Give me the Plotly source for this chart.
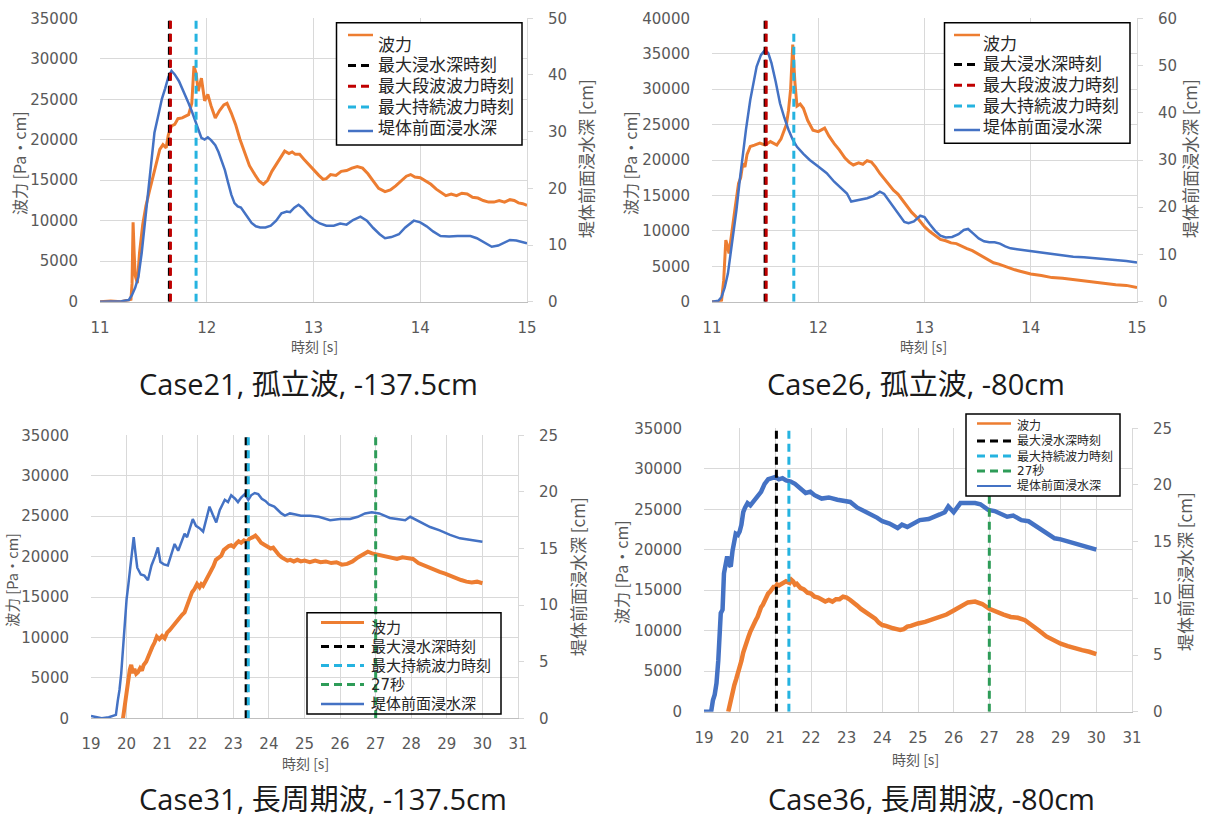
import plotly.graph_objects as go

W, H = 1209, 821

# ---------------- Case21, 孤立波, -137.5cm ----------------
c21_force = [
    (11.00, 0), (11.10, 100), (11.20, 0), (11.29, 300), (11.30, 2200), (11.31, 9800), (11.32, 6000), (11.33, 3200),
    (11.35, 2300), (11.37, 6000), (11.40, 9500), (11.43, 11800), (11.46, 13500), (11.50, 15500), (11.53, 17200),
    (11.56, 18800), (11.59, 19400), (11.62, 19000), (11.64, 20600), (11.67, 21700), (11.70, 21900), (11.73, 22600),
    (11.77, 22700), (11.80, 22900), (11.83, 23100), (11.86, 24500), (11.88, 29100), (11.90, 28200), (11.92, 26000),
    (11.95, 27600), (11.98, 24800), (12.01, 25600), (12.04, 24200), (12.08, 22700), (12.12, 23600), (12.16, 24300),
    (12.19, 24500), (12.23, 23300), (12.27, 21900), (12.31, 20100), (12.36, 18200), (12.40, 16800), (12.45, 15700),
    (12.49, 14900), (12.53, 14500), (12.57, 15000), (12.61, 16100), (12.65, 16900), (12.69, 17800), (12.73, 18600),
    (12.77, 18300), (12.80, 18500), (12.83, 18200), (12.87, 18200), (12.91, 17600), (12.95, 17000), (13.00, 16300),
    (13.05, 15600), (13.09, 15100), (13.12, 15200), (13.16, 15700), (13.21, 15600), (13.26, 16100), (13.31, 16200),
    (13.36, 16500), (13.41, 16700), (13.46, 16500), (13.51, 15800), (13.56, 14900), (13.61, 14000), (13.67, 13600),
    (13.72, 13800), (13.77, 14300), (13.82, 14900), (13.87, 15500), (13.91, 15700), (13.95, 15400), (14.00, 15300),
    (14.05, 14900), (14.10, 14500), (14.15, 13900), (14.20, 13400), (14.24, 13100), (14.29, 13300), (14.34, 13100),
    (14.39, 13400), (14.44, 13300), (14.49, 12900), (14.54, 12800), (14.59, 12500), (14.64, 12300), (14.69, 12300),
    (14.74, 12500), (14.79, 12300), (14.84, 12600), (14.88, 12500), (14.92, 12200), (14.96, 12100), (15.00, 11900),
]
c21_depth = [
    (11.00, 0), (11.10, 0), (11.20, 0.1), (11.27, 0.3), (11.30, 1.2), (11.33, 2.5), (11.36, 4.4), (11.39, 8.5),
    (11.42, 13.8), (11.45, 20.0), (11.48, 25.6), (11.51, 29.8), (11.55, 33.2), (11.58, 35.8), (11.61, 37.6),
    (11.64, 39.6), (11.67, 40.7), (11.70, 40.1), (11.74, 38.9), (11.77, 37.7), (11.80, 36.3), (11.83, 35.0),
    (11.86, 33.6), (11.89, 32.0), (11.92, 30.2), (11.95, 28.9), (11.98, 28.6), (12.01, 29.0), (12.04, 28.5),
    (12.08, 27.6), (12.11, 26.4), (12.14, 24.8), (12.17, 23.2), (12.20, 21.0), (12.23, 18.9), (12.26, 17.4),
    (12.29, 16.8), (12.32, 16.6), (12.35, 15.9), (12.38, 15.0), (12.42, 13.9), (12.46, 13.3), (12.50, 13.1),
    (12.55, 13.1), (12.60, 13.4), (12.65, 14.3), (12.70, 15.6), (12.75, 15.9), (12.78, 15.8), (12.82, 16.6),
    (12.86, 17.1), (12.90, 16.5), (12.95, 15.4), (13.00, 14.5), (13.06, 13.8), (13.12, 13.4), (13.19, 13.4),
    (13.25, 13.8), (13.31, 13.6), (13.37, 14.4), (13.44, 15.0), (13.50, 14.3), (13.56, 13.0), (13.62, 11.9),
    (13.67, 11.2), (13.73, 11.4), (13.80, 11.9), (13.86, 13.1), (13.94, 14.3), (14.00, 14.0), (14.06, 13.3),
    (14.12, 12.4), (14.19, 11.6), (14.27, 11.5), (14.35, 11.6), (14.47, 11.6), (14.53, 11.2), (14.60, 10.4),
    (14.67, 9.7), (14.73, 9.9), (14.79, 10.5), (14.84, 10.9), (14.90, 10.8), (14.95, 10.6), (15.00, 10.3),
]
c21_t_max_depth = 11.65
c21_t_max_bore = 11.66
c21_t_max_sustained = 11.90

# ---------------- Case26, 孤立波, -80cm ----------------
c26_force = [
    (11.00, 0), (11.05, 0), (11.09, 200), (11.11, 3000), (11.13, 8700), (11.14, 8200), (11.16, 6800), (11.18, 8800),
    (11.20, 11000), (11.22, 13500), (11.25, 16700), (11.27, 17500), (11.29, 19500), (11.31, 19000), (11.33, 20800),
    (11.36, 21900), (11.40, 22100), (11.45, 22400), (11.50, 22100), (11.55, 22600), (11.61, 22100), (11.65, 23000),
    (11.67, 23800), (11.70, 25000), (11.72, 27000), (11.74, 30000), (11.76, 36300), (11.78, 31000), (11.80, 27600),
    (11.83, 27900), (11.86, 27300), (11.90, 25600), (11.95, 24200), (12.00, 24000), (12.06, 24500), (12.10, 23400),
    (12.15, 22300), (12.20, 21400), (12.25, 20300), (12.29, 19700), (12.33, 19300), (12.38, 19600), (12.42, 19400),
    (12.46, 19900), (12.50, 19700), (12.54, 19000), (12.58, 18100), (12.63, 17200), (12.67, 16400), (12.71, 15700),
    (12.75, 15200), (12.79, 14400), (12.83, 13500), (12.88, 12600), (12.94, 11700), (13.00, 10600), (13.05, 9900),
    (13.10, 9300), (13.15, 8800), (13.20, 8600), (13.25, 8300), (13.30, 8200), (13.35, 7800), (13.40, 7500),
    (13.45, 7200), (13.50, 6800), (13.55, 6300), (13.60, 5900), (13.65, 5500), (13.70, 5300), (13.75, 5000),
    (13.80, 4800), (13.85, 4500), (13.90, 4300), (13.95, 4100), (14.00, 3900), (14.10, 3700), (14.20, 3400),
    (14.30, 3300), (14.40, 3100), (14.50, 2900), (14.60, 2700), (14.70, 2600), (14.80, 2400), (14.90, 2300),
    (15.00, 2000),
]
c26_depth = [
    (11.00, 0), (11.06, 0.2), (11.09, 1.0), (11.12, 3.0), (11.15, 6.0), (11.19, 12.5), (11.23, 19.4), (11.26, 25.5),
    (11.29, 31.4), (11.32, 36.5), (11.36, 42.7), (11.39, 46.5), (11.42, 49.8), (11.46, 52.2), (11.50, 53.3),
    (11.53, 52.6), (11.56, 50.5), (11.60, 46.5), (11.64, 42.0), (11.68, 39.0), (11.72, 36.4), (11.76, 34.3),
    (11.80, 32.8), (11.86, 31.3), (11.92, 30.0), (12.00, 28.6), (12.08, 27.2), (12.15, 25.4), (12.22, 24.0),
    (12.27, 22.9), (12.31, 21.2), (12.36, 21.4), (12.41, 21.7), (12.46, 21.9), (12.52, 22.4), (12.58, 23.3),
    (12.62, 22.8), (12.67, 21.2), (12.72, 19.6), (12.77, 18.0), (12.81, 16.9), (12.85, 16.6), (12.90, 17.0),
    (12.96, 18.2), (13.00, 17.9), (13.05, 16.4), (13.10, 15.0), (13.15, 14.0), (13.20, 13.6), (13.26, 13.7),
    (13.32, 14.3), (13.37, 15.2), (13.41, 15.4), (13.46, 14.4), (13.51, 13.4), (13.56, 12.8), (13.61, 12.6),
    (13.66, 12.6), (13.71, 12.3), (13.76, 11.7), (13.81, 11.3), (13.87, 11.1), (13.94, 10.9), (14.00, 10.6),
    (14.10, 10.3), (14.20, 10.0), (14.30, 9.8), (14.40, 9.5), (14.50, 9.4), (14.60, 9.2), (14.70, 9.0),
    (14.80, 8.9), (14.90, 8.6), (15.00, 8.3),
]
c26_t_max_depth = 11.50
c26_t_max_bore = 11.51
c26_t_max_sustained = 11.77
c26_sustained_top = 38300  # top of the 最大持続波力時刻 marker [Pa・cm]

# ---------------- Case31, 長周期波, -137.5cm ----------------
c31_force = [
    (19.90, 0), (19.95, 1800), (20.00, 3500), (20.05, 5200), (20.09, 6000), (20.13, 6600), (20.18, 5600),
    (20.22, 6100), (20.27, 5500), (20.32, 5700), (20.38, 6200), (20.43, 5900), (20.48, 6600), (20.55, 7000),
    (20.60, 7600), (20.66, 8300), (20.72, 8800), (20.79, 9400), (20.85, 10100), (20.92, 9800), (21.00, 10200),
    (21.07, 9900), (21.14, 10600), (21.21, 10900), (21.28, 11300), (21.35, 11500), (21.42, 12100), (21.49, 12500),
    (21.56, 12800), (21.63, 13100), (21.70, 14000), (21.77, 15000), (21.84, 15600), (21.91, 16000), (21.98, 16600),
    (22.05, 16200), (22.10, 16600), (22.15, 16400), (22.22, 17000), (22.30, 17700), (22.37, 18100), (22.44, 18800),
    (22.51, 19600), (22.58, 19900), (22.66, 20100), (22.73, 20800), (22.80, 21100), (22.87, 21300), (22.94, 21400),
    (23.01, 21200), (23.08, 21600), (23.15, 21900), (23.22, 21700), (23.30, 22000), (23.38, 21800), (23.45, 22200),
    (23.55, 22400), (23.62, 22600), (23.70, 22200), (23.78, 21700), (23.86, 21500), (23.97, 21200), (24.05, 21000),
    (24.12, 21100), (24.20, 20600), (24.28, 20200), (24.36, 19900), (24.44, 19700), (24.52, 19500), (24.60, 19600),
    (24.70, 19400), (24.80, 19600), (24.90, 19400), (25.00, 19500), (25.15, 19300), (25.30, 19500), (25.45, 19300),
    (25.60, 19400), (25.75, 19200), (25.90, 19300), (26.05, 19000), (26.20, 19100), (26.35, 19400), (26.50, 19900),
    (26.65, 20300), (26.78, 20600), (26.90, 20400), (27.00, 20300), (27.15, 20100), (27.30, 19900), (27.45, 19800),
    (27.60, 19700), (27.75, 19900), (27.90, 19800), (28.05, 19700), (28.20, 19200), (28.35, 18900), (28.50, 18600),
    (28.65, 18400), (28.80, 18100), (28.95, 17900), (29.10, 17600), (29.25, 17300), (29.40, 17100), (29.55, 16900),
    (29.70, 16800), (29.85, 16900), (30.00, 16700),
]
c31_depth = [
    (19.00, 0.2), (19.15, 0.1), (19.30, 0.0), (19.50, 0.1), (19.70, 0.3), (19.75, 1.5), (19.80, 2.5), (19.85, 4.0),
    (19.90, 6.5), (19.95, 8.5), (20.00, 10.5), (20.05, 11.8), (20.10, 13.2), (20.15, 15.0), (20.20, 16.0),
    (20.25, 14.6), (20.30, 13.3), (20.40, 12.7), (20.50, 12.6), (20.60, 12.2), (20.70, 13.5), (20.80, 14.3),
    (20.88, 15.1), (20.95, 13.8), (21.05, 13.6), (21.16, 13.5), (21.25, 14.5), (21.35, 15.4), (21.45, 14.8),
    (21.55, 15.6), (21.63, 16.3), (21.70, 16.0), (21.80, 17.0), (21.86, 17.6), (21.95, 17.0), (22.05, 16.8),
    (22.15, 16.5), (22.25, 17.6), (22.33, 18.7), (22.42, 18.0), (22.52, 17.3), (22.62, 18.4), (22.70, 19.0),
    (22.76, 19.3), (22.85, 19.1), (22.94, 19.7), (23.05, 19.4), (23.13, 19.1), (23.22, 19.5), (23.32, 19.8),
    (23.42, 19.3), (23.50, 19.7), (23.60, 19.9), (23.70, 19.8), (23.80, 19.4), (23.90, 19.2), (24.00, 18.9),
    (24.07, 18.8), (24.15, 18.7), (24.25, 18.4), (24.35, 18.1), (24.45, 17.9), (24.59, 18.1), (24.75, 18.0),
    (24.90, 17.9), (25.16, 17.9), (25.40, 17.8), (25.72, 17.5), (26.00, 17.6), (26.28, 17.6), (26.50, 17.8),
    (26.70, 18.1), (26.89, 18.2), (27.10, 18.1), (27.40, 17.7), (27.60, 17.6), (27.83, 17.5), (27.97, 17.8),
    (28.20, 17.4), (28.53, 16.9), (28.80, 16.6), (29.09, 16.2), (29.37, 15.9), (29.60, 15.8), (29.80, 15.7),
    (30.00, 15.6),
]
c31_t_max_depth = 23.36
c31_t_max_sustained = 23.42
c31_t_27s = 27.0

# ---------------- Case36, 長周期波, -80cm ----------------
c36_force = [
    (19.68, 0), (19.72, 900), (19.76, 1800), (19.80, 2500), (19.85, 3300), (19.90, 4000), (19.95, 4700),
    (20.00, 5400), (20.05, 6300), (20.10, 7300), (20.15, 8100), (20.20, 8800), (20.25, 9300), (20.30, 9900),
    (20.35, 10500), (20.40, 10800), (20.45, 11300), (20.50, 11700), (20.55, 12400), (20.60, 12900), (20.65, 13200),
    (20.70, 13700), (20.75, 14100), (20.80, 14600), (20.85, 14800), (20.90, 15200), (20.95, 15400), (21.00, 15400),
    (21.05, 15700), (21.10, 15600), (21.20, 15900), (21.30, 16100), (21.40, 15900), (21.45, 16300), (21.50, 16100),
    (21.55, 15700), (21.60, 15800), (21.70, 15300), (21.80, 15100), (21.90, 14700), (22.00, 14600), (22.10, 14200),
    (22.20, 14100), (22.30, 13800), (22.40, 13600), (22.50, 13800), (22.60, 13600), (22.70, 13900), (22.80, 13900),
    (22.90, 14200), (23.00, 14100), (23.10, 13800), (23.20, 13500), (23.30, 13100), (23.40, 12700), (23.50, 12400),
    (23.60, 12100), (23.70, 11800), (23.80, 11500), (23.90, 11000), (24.00, 10700), (24.10, 10600), (24.20, 10400),
    (24.30, 10300), (24.40, 10200), (24.50, 10100), (24.60, 10200), (24.70, 10500), (24.80, 10600), (24.90, 10800),
    (25.00, 10900), (25.20, 11100), (25.40, 11400), (25.60, 11600), (25.80, 12000), (26.00, 12500), (26.20, 13000),
    (26.40, 13500), (26.60, 13600), (26.80, 13300), (27.00, 12700), (27.20, 12300), (27.40, 12000), (27.60, 11700),
    (27.80, 11600), (28.00, 11300), (28.20, 10700), (28.40, 10000), (28.60, 9300), (28.80, 8800), (29.00, 8400),
    (29.20, 8100), (29.40, 7800), (29.60, 7600), (29.80, 7400), (30.00, 7100),
]
c36_depth = [
    (19.00, 0), (19.20, 0), (19.25, 1.0), (19.30, 1.5), (19.35, 2.5), (19.40, 4.5), (19.47, 8.7), (19.52, 9.0),
    (19.56, 12.2), (19.60, 12.8), (19.65, 13.7), (19.70, 13.0), (19.75, 12.8), (19.80, 14.2), (19.85, 15.0),
    (19.89, 15.7), (19.95, 15.6), (20.00, 15.9), (20.05, 16.5), (20.10, 17.6), (20.15, 18.0), (20.22, 18.4),
    (20.30, 18.2), (20.40, 18.6), (20.50, 19.0), (20.60, 19.4), (20.70, 20.1), (20.80, 20.5), (20.90, 20.6),
    (21.00, 20.7), (21.10, 20.5), (21.20, 20.6), (21.30, 20.4), (21.43, 20.3), (21.55, 20.1), (21.70, 19.7),
    (21.85, 19.3), (21.98, 19.4), (22.10, 19.1), (22.30, 18.8), (22.50, 18.9), (22.74, 18.7), (22.90, 18.6),
    (23.10, 18.5), (23.30, 18.0), (23.50, 17.7), (23.70, 17.3), (23.86, 17.1), (24.00, 16.8), (24.20, 16.6),
    (24.43, 16.2), (24.55, 16.5), (24.70, 16.3), (24.85, 16.6), (25.05, 16.9), (25.30, 17.0), (25.50, 17.2),
    (25.61, 17.4), (25.75, 17.6), (25.85, 18.1), (26.00, 17.6), (26.19, 18.4), (26.40, 18.4), (26.60, 18.4),
    (26.75, 18.3), (26.97, 17.8), (27.15, 17.7), (27.30, 17.5), (27.50, 17.2), (27.67, 17.3), (27.90, 16.9),
    (28.10, 16.8), (28.30, 16.4), (28.45, 16.0), (28.65, 15.6), (28.83, 15.3), (29.00, 15.2), (29.20, 15.0),
    (29.40, 14.8), (29.60, 14.7), (29.80, 14.4), (30.00, 14.3),
]
c36_t_max_depth = 21.03
c36_t_max_sustained = 21.38
c36_t_27s = 27.0

# ---------------- styling ----------------
ORANGE = "#ED7D31"
BLUE = "#4472C4"
BLACK = "#000000"
RED = "#C00000"
CYAN = "#25B3E0"
GREEN = "#2E9C58"
GRID = "#D9D9D9"
AXIS_TXT = "#595959"
NUM_FONT = "DejaVu Sans, Noto Sans CJK JP, sans-serif"
JP_FONT = "Noto Sans CJK JP, sans-serif"
KEY_FONT = "DejaVu Sans, Noto Sans CJK JP, sans-serif"
TITLE_FONT = "Open Sans, Noto Sans CJK JP, sans-serif"
DASH = "8px,5px"

LBL_FORCE = "波力"
LBL_DEPTH = "堤体前面浸水深"
LBL_T_DEPTH = "最大浸水深時刻"
LBL_T_BORE = "最大段波波力時刻"
LBL_T_SUST = "最大持続波力時刻"
LBL_27 = "27秒"


def fx(px):
    return px / W


def fy(py):
    return 1 - py / H


fig = go.Figure()


def add_panel(force, depth, events, xa, ya, ya2, left_max, right_max, force_w, depth_w):
    ft, fv = zip(*force)
    fig.add_trace(go.Scatter(x=ft, y=fv, mode="lines", name=LBL_FORCE,
                             line=dict(color=ORANGE, width=force_w), xaxis=xa, yaxis=ya))
    dt, dv = zip(*depth)
    fig.add_trace(go.Scatter(x=dt, y=dv, mode="lines", name=LBL_DEPTH,
                             line=dict(color=BLUE, width=depth_w), xaxis=xa, yaxis=ya2))
    # event markers drawn on the depth axis so they sit above both curves
    for name, t, color, top in events:
        fig.add_trace(go.Scatter(x=[t, t], y=[0, right_max * top / left_max], mode="lines", name=name,
                                 line=dict(color=color, width=3, dash=DASH), xaxis=xa, yaxis=ya2))


add_panel(c21_force, c21_depth,
          [(LBL_T_DEPTH, c21_t_max_depth, BLACK, 35000),
           (LBL_T_BORE, c21_t_max_bore, RED, 35000),
           (LBL_T_SUST, c21_t_max_sustained, CYAN, 35000)],
          "x", "y", "y2", 35000, 50, 3, 2.5)
add_panel(c26_force, c26_depth,
          [(LBL_T_DEPTH, c26_t_max_depth, BLACK, 40000),
           (LBL_T_BORE, c26_t_max_bore, RED, 40000),
           (LBL_T_SUST, c26_t_max_sustained, CYAN, c26_sustained_top)],
          "x2", "y3", "y4", 40000, 60, 3, 2.5)
add_panel(c31_force, c31_depth,
          [(LBL_T_DEPTH, c31_t_max_depth, BLACK, 35000),
           (LBL_T_SUST, c31_t_max_sustained, CYAN, 35000),
           (LBL_27, c31_t_27s, GREEN, 35000)],
          "x3", "y5", "y6", 35000, 25, 4, 2.5)
add_panel(c36_force, c36_depth,
          [(LBL_T_DEPTH, c36_t_max_depth, BLACK, 35000),
           (LBL_T_SUST, c36_t_max_sustained, CYAN, 35000),
           (LBL_27, c36_t_27s, GREEN, 35000)],
          "x4", "y7", "y8", 35000, 25, 4.5, 4.5)

tickfont = dict(family=NUM_FONT, size=15, color=AXIS_TXT)


def x_axis(left, right, rng, anchor):
    return dict(domain=[fx(left), fx(right)], range=rng, dtick=1, tick0=rng[0], anchor=anchor,
                showgrid=True, gridcolor=GRID, gridwidth=1, showline=True, linecolor="#BFBFBF",
                linewidth=1, ticks="", zeroline=False, tickfont=tickfont, ticklabelstandoff=12,
                tickformat="d", automargin=False)


def y_left(top_px, bottom_px, top, anchor):
    return dict(domain=[fy(bottom_px), fy(top_px)], range=[0, top], dtick=5000, tick0=0, anchor=anchor,
                showgrid=True, gridcolor=GRID, gridwidth=1, zeroline=False, showline=False, ticks="",
                tickfont=tickfont, ticklabelstandoff=21, tickformat="d", automargin=False)


def y_right(over, top, dtick, anchor):
    return dict(overlaying=over, side="right", anchor=anchor, range=[0, top], dtick=dtick, tick0=0,
                showgrid=False, zeroline=False, showline=True, linecolor=GRID, linewidth=1,
                ticks="outside", ticklen=5, tickcolor=GRID, tickfont=tickfont, ticklabelstandoff=12,
                tickformat="d", automargin=False)


def label(text, cx, cy, size, angle=0, color=AXIS_TXT, anchor="center", family=JP_FONT):
    return dict(text=text, x=fx(cx), y=fy(cy), xref="paper", yref="paper", xanchor=anchor,
                yanchor="middle", align="left", showarrow=False, textangle=angle, borderpad=0,
                font=dict(family=family, size=size, color=color))


shapes = []
annotations = []


def legend_box(box, sample_x, text_x, size, fill, entries):
    """Boxed key: entries are (text, colour, dash, width, sample_y, text_y) in page pixels."""
    x0, y0, x1, y1 = box
    shapes.append(dict(type="rect", xref="paper", yref="paper", layer="above",
                       x0=fx(x0), x1=fx(x1), y0=fy(y1), y1=fy(y0),
                       line=dict(color="black", width=1.5), fillcolor=fill))
    for text, color, dash, width, sample_y, text_y in entries:
        shapes.append(dict(type="line", xref="paper", yref="paper", layer="above",
                           x0=fx(sample_x[0]), x1=fx(sample_x[1]), y0=fy(sample_y), y1=fy(sample_y),
                           line=dict(color=color, width=width, dash=dash)))
        annotations.append(label(text, text_x, text_y, size, color="#262626", anchor="left",
                                 family=KEY_FONT))


legend_box((336.5, 22.7, 522, 145), (348, 373), 377, 17, "white", [
    (LBL_FORCE, ORANGE, "solid", 2.5, 35, 45),
    (LBL_T_DEPTH, BLACK, DASH, 3, 65.5, 65.5),
    (LBL_T_BORE, RED, DASH, 3, 86.3, 86.3),
    (LBL_T_SUST, CYAN, DASH, 3, 107, 107),
    (LBL_DEPTH, BLUE, "solid", 2.5, 131, 128),
])
legend_box((944.5, 22.7, 1130, 143.3), (954, 980), 982, 17, "white", [
    (LBL_FORCE, ORANGE, "solid", 2.5, 35, 44),
    (LBL_T_DEPTH, BLACK, DASH, 3, 64.5, 64.5),
    (LBL_T_BORE, RED, DASH, 3, 85.3, 85.3),
    (LBL_T_SUST, CYAN, DASH, 3, 106, 106),
    (LBL_DEPTH, BLUE, "solid", 2.5, 130, 127),
])
legend_box((307, 612.7, 501, 714), (321, 364), 370, 15, "rgba(0,0,0,0)", [
    (LBL_FORCE, ORANGE, "solid", 3, 622.5, 628),
    (LBL_T_DEPTH, BLACK, DASH, 3, 646.5, 646.5),
    (LBL_T_SUST, CYAN, DASH, 3, 665.5, 665.5),
    (LBL_27, GREEN, DASH, 3, 684.5, 684.5),
    (LBL_DEPTH, BLUE, "solid", 2.5, 704, 703.5),
])
legend_box((966, 414, 1120, 496), (977, 1011), 1016, 12, "white", [
    (LBL_FORCE, ORANGE, "solid", 2.5, 423.5, 426),
    (LBL_T_DEPTH, BLACK, DASH, 3, 441, 441),
    (LBL_T_SUST, CYAN, DASH, 3, 456, 456),
    (LBL_27, GREEN, DASH, 3, 471, 471),
    (LBL_DEPTH, BLUE, "solid", 2, 486, 486),
])

annotations += [
    label("Case21, 孤立波, -137.5cm", 308, 383, 29, color="#1a1a1a", family=TITLE_FONT),
    label("時刻 [s]", 314, 346, 14),
    label("波力 [Pa・cm]", 19, 163, 16, -90),
    label("堤体前面浸水深 [cm]", 586, 159, 17, -90),
    label("Case26, 孤立波, -80cm", 916, 383, 29, color="#1a1a1a", family=TITLE_FONT),
    label("時刻 [s]", 923, 346, 14),
    label("波力 [Pa・cm]", 630, 163, 16, -90),
    label("堤体前面浸水深 [cm]", 1190, 159, 17, -90),
    label("Case31, 長周期波, -137.5cm", 323, 798, 29, color="#1a1a1a", family=TITLE_FONT),
    label("時刻 [s]", 305, 763, 14),
    label("波力 [Pa・cm]", 11, 580, 14.5, -90),
    label("堤体前面浸水深 [cm]", 577, 577, 17, -90),
    label("Case36, 長周期波, -80cm", 931, 798, 29, color="#1a1a1a", family=TITLE_FONT),
    label("時刻 [s]", 915, 759, 14),
    label("波力 [Pa・cm]", 621, 572, 16, -90),
    label("堤体前面浸水深 [cm]", 1184, 572, 17, -90),
]

fig.update_layout(
    width=W, height=H, autosize=False,
    margin=dict(l=0, r=0, t=0, b=0),
    paper_bgcolor="white", plot_bgcolor="white",
    showlegend=False,
    xaxis=x_axis(100, 527, [11, 15], "y"),
    yaxis=y_left(18.3, 301.7, 35000, "x"),
    yaxis2=y_right("y", 50, 10, "x"),
    xaxis2=x_axis(712, 1137, [11, 15], "y3"),
    yaxis3=y_left(18.3, 301.7, 40000, "x2"),
    yaxis4=y_right("y3", 60, 10, "x2"),
    xaxis3=x_axis(91, 518, [19, 31], "y5"),
    yaxis5=y_left(435.3, 718.3, 35000, "x3"),
    yaxis6=y_right("y5", 25, 5, "x3"),
    xaxis4=x_axis(704, 1132, [19, 31], "y7"),
    yaxis7=y_left(428.3, 711.7, 35000, "x4"),
    yaxis8=y_right("y7", 25, 5, "x4"),
    shapes=shapes,
    annotations=annotations,
)

fig.write_html("out.html")
